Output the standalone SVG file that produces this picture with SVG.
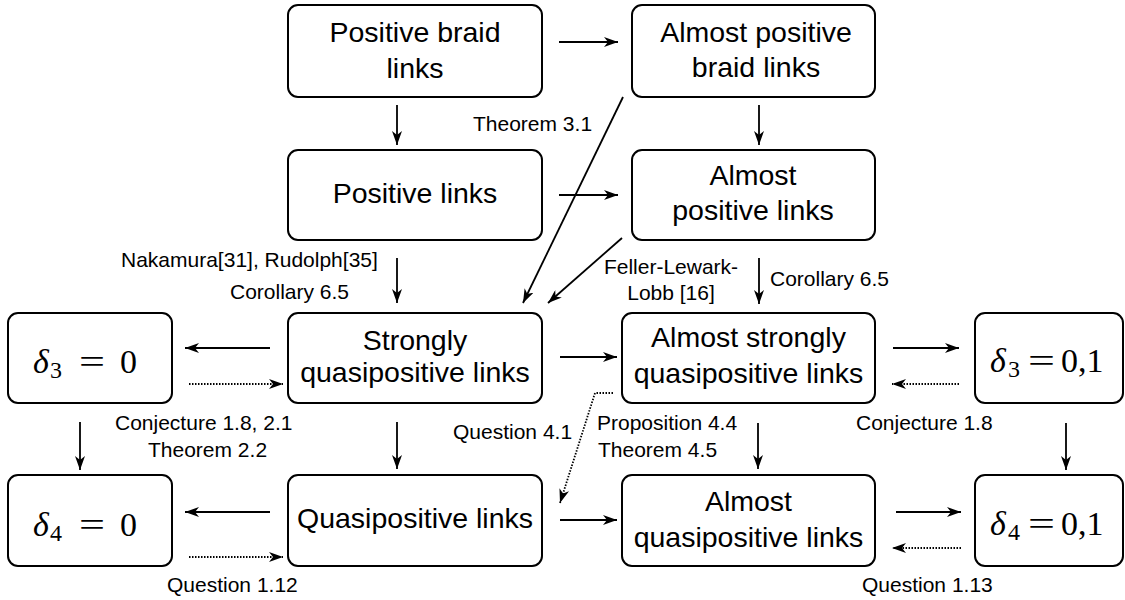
<svg xmlns="http://www.w3.org/2000/svg" width="1125" height="600" viewBox="0 0 1125 600">
<style>
.box{fill:#fff;stroke:#000;stroke-width:2}
.t{font-family:"Liberation Sans",Arial,sans-serif;font-size:28.5px;fill:#000;text-anchor:middle}
.lb{font-family:"Liberation Sans",Arial,sans-serif;font-size:21px;fill:#000}
.m{font-family:"Liberation Serif","Times New Roman",serif;font-size:34px;fill:#000}
.mi{font-style:italic}
.sub{font-size:24px}
.a{stroke:#000;stroke-width:1.8;fill:none;marker-end:url(#ah)}
.d{stroke:#000;stroke-width:1.8;fill:none;stroke-dasharray:1.5 1.5;marker-end:url(#ah)}
</style>
<defs>
<marker id="ah" viewBox="0 0 14 10" refX="14" refY="5" markerWidth="14" markerHeight="10" markerUnits="userSpaceOnUse" orient="auto">
<path d="M0,0 L14,5 L0,10 L4,5 z" fill="#000"/>
</marker>
</defs>
<rect width="1125" height="600" fill="#fff"/>

<g id="n-posbraid">
<rect class="box" x="288" y="5" width="254" height="92" rx="10"/>
<text class="t" x="415" y="42">Positive braid</text>
<text class="t" x="415" y="78">links</text>
</g>
<g id="n-almostposbraid">
<rect class="box" x="632" y="5" width="243" height="92" rx="10"/>
<text class="t" x="756" y="42">Almost positive</text>
<text class="t" x="756" y="77">braid links</text>
</g>
<g id="n-poslinks">
<rect class="box" x="288" y="150" width="254" height="90" rx="10"/>
<text class="t" x="415" y="203">Positive links</text>
</g>
<g id="n-almostposlinks">
<rect class="box" x="632" y="150" width="243" height="90" rx="10"/>
<text class="t" x="753" y="185">Almost</text>
<text class="t" x="753" y="220">positive links</text>
</g>
<g id="n-delta3-0">
<rect class="box" x="8" y="313" width="164" height="90" rx="10"/>
<text class="m" y="373"><tspan class="mi" x="33">δ</tspan><tspan class="sub" x="50" dy="5">3</tspan><tspan x="79" dy="-5" textLength="26" lengthAdjust="spacingAndGlyphs">=</tspan><tspan x="120">0</tspan></text>
</g>
<g id="n-sqp">
<rect class="box" x="288" y="313" width="254" height="90" rx="10"/>
<text class="t" x="415" y="350">Strongly</text>
<text class="t" x="415" y="382">quasipositive links</text>
</g>
<g id="n-asqp">
<rect class="box" x="622" y="313" width="253" height="90" rx="10"/>
<text class="t" x="748.5" y="347">Almost strongly</text>
<text class="t" x="748.5" y="383">quasipositive links</text>
</g>
<g id="n-delta3-01">
<rect class="box" x="975" y="313" width="148" height="90" rx="10"/>
<text class="m" y="372"><tspan class="mi" x="990">δ</tspan><tspan class="sub" x="1008" dy="5">3</tspan><tspan x="1028" dy="-5" textLength="27" lengthAdjust="spacingAndGlyphs">=</tspan><tspan x="1061">0,1</tspan></text>
</g>
<g id="n-delta4-0">
<rect class="box" x="8" y="475" width="164" height="91" rx="10"/>
<text class="m" y="536"><tspan class="mi" x="33">δ</tspan><tspan class="sub" x="50" dy="5">4</tspan><tspan x="79" dy="-5" textLength="26" lengthAdjust="spacingAndGlyphs">=</tspan><tspan x="120">0</tspan></text>
</g>
<g id="n-qp">
<rect class="box" x="288" y="475" width="254" height="91" rx="10"/>
<text class="t" x="415" y="528">Quasipositive links</text>
</g>
<g id="n-aqp">
<rect class="box" x="622" y="475" width="253" height="91" rx="10"/>
<text class="t" x="748.5" y="511">Almost</text>
<text class="t" x="748.5" y="547">quasipositive links</text>
</g>
<g id="n-delta4-01">
<rect class="box" x="975" y="475" width="148" height="91" rx="10"/>
<text class="m" y="535"><tspan class="mi" x="990">δ</tspan><tspan class="sub" x="1008" dy="5">4</tspan><tspan x="1028" dy="-5" textLength="27" lengthAdjust="spacingAndGlyphs">=</tspan><tspan x="1061">0,1</tspan></text>
</g>

<g id="connectors">
<line class="a" x1="559" y1="42" x2="618" y2="42"/>
<line class="a" x1="559" y1="195" x2="618" y2="195"/>
<line class="a" x1="397" y1="105" x2="397" y2="145"/>
<line class="a" x1="759" y1="105" x2="759" y2="145"/>
<line class="a" x1="623" y1="97" x2="523" y2="303"/>
<line class="a" x1="622" y1="238" x2="548" y2="303"/>
<line class="a" x1="397" y1="258" x2="397" y2="303"/>
<line class="a" x1="759" y1="258" x2="759" y2="304"/>

<line class="a" x1="270" y1="348" x2="185" y2="348"/>
<line class="d" x1="189" y1="384" x2="283" y2="384"/>
<line class="a" x1="560" y1="357" x2="617" y2="357"/>
<line class="a" x1="893" y1="348" x2="959" y2="348"/>
<line class="d" x1="959" y1="384" x2="892" y2="384"/>

<line class="a" x1="80" y1="422" x2="80" y2="470"/>
<line class="a" x1="397" y1="422" x2="397" y2="469"/>
<line class="a" x1="758" y1="423" x2="758" y2="469"/>
<line class="a" x1="1066" y1="423" x2="1066" y2="470"/>

<polyline class="d" points="613,393 595,393 560,503"/>

<line class="a" x1="270" y1="512" x2="185" y2="512"/>
<line class="d" x1="189" y1="557" x2="283" y2="557"/>
<line class="a" x1="560" y1="520" x2="617" y2="520"/>
<line class="a" x1="896" y1="512" x2="961" y2="512"/>
<line class="d" x1="961" y1="548" x2="892" y2="548"/>
</g>

<g id="labels">
<text class="lb" x="473" y="131">Theorem 3.1</text>
<text class="lb" x="121" y="267">Nakamura[31], Rudolph[35]</text>
<text class="lb" x="230" y="299">Corollary 6.5</text>
<text class="lb" x="671" y="274" text-anchor="middle">Feller-Lewark-</text>
<text class="lb" x="671" y="300" text-anchor="middle">Lobb [16]</text>
<text class="lb" x="770" y="286">Corollary 6.5</text>
<text class="lb" x="115" y="430">Conjecture 1.8, 2.1</text>
<text class="lb" x="148" y="457">Theorem 2.2</text>
<text class="lb" x="453" y="439">Question 4.1</text>
<text class="lb" x="597" y="430">Proposition 4.4</text>
<text class="lb" x="598" y="457">Theorem 4.5</text>
<text class="lb" x="856" y="430">Conjecture 1.8</text>
<text class="lb" x="167" y="592">Question 1.12</text>
<text class="lb" x="862" y="592">Question 1.13</text>
</g>
</svg>
